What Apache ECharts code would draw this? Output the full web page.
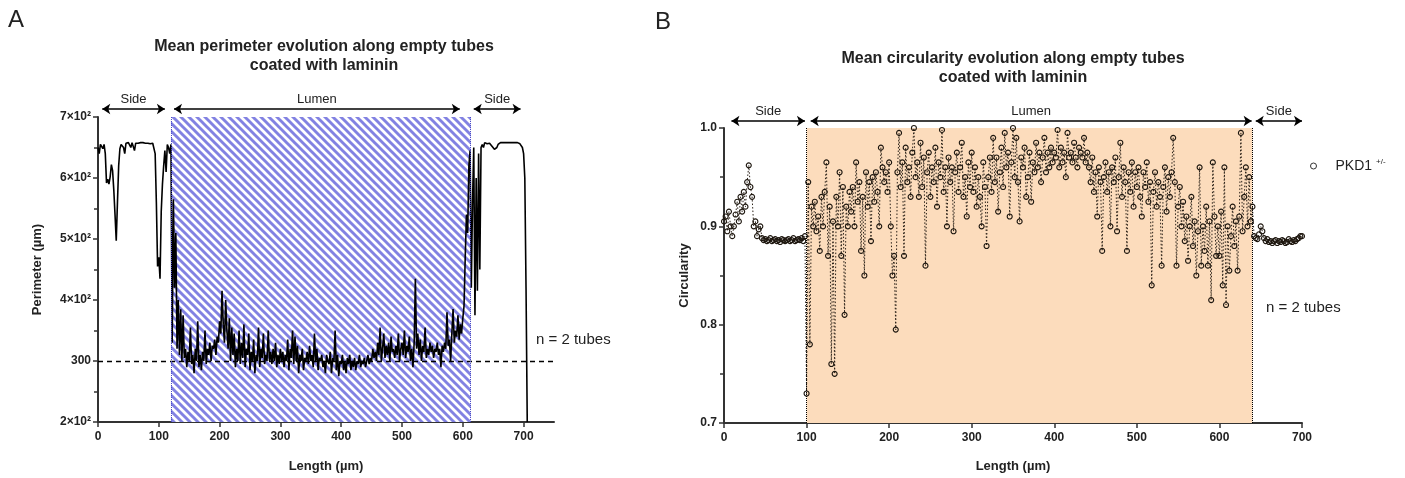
<!DOCTYPE html>
<html><head><meta charset="utf-8">
<script src="https://cdn.jsdelivr.net/npm/echarts@6/dist/echarts.min.js"></script>
<style>html,body{margin:0;padding:0;background:#fff}#c{width:1405px;height:478px}</style>
</head><body><div id="c"></div>
<script>
// ---- data ----
const lengthStart = 0;
const lengthStep = 2; // µm between samples

const perimeterValues = [
650,640,655,652,648,655,640,592,598,590,
602,622,612,580,540,497,560,620,648,655,
656,650,640,657,655,658,657,650,658,657,
645,657,658,657,658,658,657,658,658,657,
658,657,658,656,658,657,655,640,560,455,
470,435,545,590,620,645,610,655,650,640,
655,330,565,420,510,320,400,310,385,300,
375,305,320,290,315,300,355,295,310,280,
320,300,365,290,310,285,315,300,350,295,
320,310,330,300,325,320,335,310,340,330,
365,345,415,360,330,400,350,320,370,300,
355,310,345,290,320,300,350,295,330,305,
360,290,320,310,345,285,315,300,335,280,
310,300,355,290,320,305,345,295,310,300,
350,300,315,295,320,300,330,290,310,295,
320,300,315,290,310,300,335,285,320,305,
350,295,340,300,325,280,310,300,320,285,
305,300,315,295,325,300,310,290,345,300,
320,285,305,300,310,290,300,280,310,300,
295,315,280,305,300,350,285,310,275,300,
295,310,285,300,280,305,295,310,285,300,
290,305,285,300,295,310,290,300,295,305,
290,300,310,295,305,300,320,305,315,300,
330,310,355,300,320,345,305,325,310,330,
300,340,315,320,305,325,310,345,300,320,
330,310,350,305,325,315,340,300,320,290,
330,435,320,345,310,335,300,325,315,355,
305,320,310,330,315,325,305,320,315,330,
310,320,290,325,315,330,320,380,325,335,
300,345,385,330,350,340,375,335,360,345,
370,390,470,540,510,620,645,420,560,650,
375,600,415,640,450,650,655,650,658,657,
656,658,657,655,652,650,647,646,650,655,
657,658,657,658,657,658,657,658,657,658,
657,658,657,658,657,658,657,656,655,650,
640,600,420,200
];

const circularityValues = [
.905,.91,.895,.915,.9,.89,.9,.912,.925,.905,
.93,.915,.935,.92,.945,.962,.94,.93,.9,.905,
.89,.897,.9,.888,.886,.887,.885,.886,.888,.885,
.886,.887,.885,.886,.884,.887,.886,.885,.886,.887,
.885,.886,.888,.885,.886,.887,.886,.888,.885,.89,
.73,.945,.78,.92,.9,.925,.895,.91,.875,.93,
.9,.935,.965,.87,.92,.76,.905,.75,.93,.9,
.955,.87,.94,.81,.92,.9,.935,.915,.94,.9,
.965,.925,.945,.875,.93,.85,.955,.92,.945,.885,
.95,.925,.955,.935,.9,.98,.96,.945,.955,.935,
.965,.9,.85,.87,.795,.955,.995,.94,.965,.87,
.98,.945,.96,.93,.975,1.0,.95,.965,.93,.985,
.94,.97,.86,.955,.975,.93,.96,.945,.98,.92,
.965,.95,.998,.935,.96,.9,.97,.945,.96,.895,
.955,.975,.935,.96,.985,.93,.95,.91,.965,.94,
.975,.935,.96,.92,.95,.93,.9,.965,.94,.88,
.95,.97,.935,.99,.945,.97,.915,.955,.98,.94,
.995,.96,.975,.91,.965,1.0,.95,.99,.945,.905,
.97,.96,.98,.93,.95,.975,.925,.965,.955,.985,
.96,.975,.945,.97,.99,.955,.975,.96,.98,.965,
.975,.97,.998,.96,.98,.965,.975,.95,.995,.97,
.975,.965,.985,.97,.96,.98,.975,.97,.99,.965,
.975,.96,.945,.97,.935,.955,.91,.96,.945,.875,
.95,.965,.935,.955,.9,.96,.945,.97,.895,.95,
.985,.93,.96,.945,.875,.955,.935,.965,.92,.955,
.94,.96,.93,.91,.955,.94,.965,.925,.945,.84,
.935,.955,.92,.945,.93,.86,.94,.96,.915,.95,
.93,.955,.99,.945,.86,.92,.94,.9,.925,.885,
.91,.865,.9,.93,.88,.905,.85,.895,.96,.86,
.9,.875,.92,.86,.905,.825,.965,.91,.87,.9,
.87,.915,.84,.96,.82,.9,.855,.89,.92,.88,
.905,.855,.91,.995,.895,.93,.96,.9,.95,.905,
.92,.89,.888,.887,.892,.9,.895,.888,.885,.887,
.884,.885,.883,.885,.886,.883,.885,.884,.886,.885,
.883,.884,.887,.885,.884,.886,.885,.887,.888,.89,
.89
];

const lengthTicks = [0,100,200,300,400,500,600,700];
const perimeterTicks = [200,300,400,500,600,700];
const perimeterTickLabels = ['2×10²','300','4×10²','5×10²','6×10²','7×10²'];
const perimeterReference = 300;
const lumenA = [120, 613];
const regionsA = [
  {name:'Side', from:7, to:110},
  {name:'Lumen', from:125, to:595},
  {name:'Side', from:618, to:695}
];
const lumenB = [100, 640];
const regionsB = [
  {name:'Side', from:9, to:98},
  {name:'Lumen', from:105, to:639},
  {name:'Side', from:644, to:700}
];
const seriesNameB = 'PKD1';

// ---- chart ----
const FONT = '"Liberation Sans", Arial, Helvetica, sans-serif';
const dataA = perimeterValues.map((v,i)=>[lengthStart + i*lengthStep, v]);
const dataB = circularityValues.map((v,i)=>[lengthStart + i*lengthStep, v]);

function hatch(){
  const s = 8;
  const c = document.createElement('canvas'); c.width = s; c.height = s;
  const g = c.getContext('2d');
  g.fillStyle = '#ffffff'; g.fillRect(0,0,s,s);
  g.strokeStyle = '#8282e2'; g.lineWidth = 2.9;
  g.beginPath();
  for (const k of [-s,0,s]) { g.moveTo(k-1,-1); g.lineTo(k+s+1,s+1); }
  g.stroke();
  return c;
}

const axisLine = {show:true, onZero:false, lineStyle:{color:'#333', width:2}};
const axisTick = {show:true, length:5, lineStyle:{color:'#333', width:1.5}};
const labelBase = {fontFamily:FONT, fontWeight:'bold', fontSize:12, color:'#222', margin:7};
const nameStyle = {fontFamily:FONT, fontWeight:'bold', fontSize:13, color:'#222'};

const chart = echarts.init(document.getElementById('c'));
chart.setOption({
  animation:false,
  backgroundColor:'#fff',
  grid:[
    {left:98, top:117, width:456, height:309},
    {left:724, top:128, width:578, height:298},
    {left:98, top:99, width:456, height:20},
    {left:724, top:111, width:578, height:20}
  ],
  xAxis:[
    {gridIndex:0, type:'value', min:0, max:750, interval:100,
     axisLine, axisTick:{...axisTick, customValues:lengthTicks},
     axisLabel:{...labelBase, margin:9, customValues:lengthTicks, formatter:v=> v>700?'':String(v)},
     splitLine:{show:false},
     name:'Length (µm)', nameLocation:'middle', nameGap:38, nameTextStyle:nameStyle},
    {gridIndex:1, type:'value', min:0, max:700, interval:100,
     axisLine, axisTick, axisLabel:{...labelBase, margin:9}, splitLine:{show:false},
     name:'Length (µm)', nameLocation:'middle', nameGap:37, nameTextStyle:nameStyle},
    {gridIndex:2, type:'value', min:0, max:750, show:false},
    {gridIndex:3, type:'value', min:0, max:700, show:false}
  ],
  yAxis:[
    {gridIndex:0, type:'value', min:200, max:700, interval:100,
     axisLine, axisTick, minorTick:{show:true, splitNumber:2, length:4, lineStyle:{color:'#333', width:1.5}},
     axisLabel:{...labelBase, fontSize:12, formatter:v=>{const i=perimeterTicks.indexOf(v); return i>=0?perimeterTickLabels[i]:'';}},
     splitLine:{show:false}, minorSplitLine:{show:false},
     name:'Perimeter (µm)', nameLocation:'middle', nameGap:54, nameTextStyle:nameStyle},
    {gridIndex:1, type:'value', min:0.7, max:1.0, interval:0.1,
     axisLine, axisTick, minorTick:{show:true, splitNumber:2, length:4, lineStyle:{color:'#333', width:1.5}},
     axisLabel:{...labelBase, formatter:v=>v.toFixed(1)},
     splitLine:{show:false}, minorSplitLine:{show:false},
     name:'Circularity', nameLocation:'middle', nameGap:33, nameTextStyle:nameStyle},
    {gridIndex:2, type:'value', min:0, max:1, show:false},
    {gridIndex:3, type:'value', min:0, max:1, show:false}
  ],
  legend:{
    data:[{name:seriesNameB, icon:'circle', itemStyle:{color:'rgba(0,0,0,0)', borderColor:'#333', borderWidth:1}}],
    left:1305, top:153, itemWidth:6, itemHeight:6,
    formatter:()=> '{n|'+seriesNameB+'}{s|+/-}',
    textStyle:{rich:{
      n:{fontFamily:FONT, fontSize:14, color:'#222', padding:[0,0,0,14]},
      s:{fontFamily:FONT, fontSize:8, color:'#222', verticalAlign:'top', padding:[0,0,8,4]}
    }}
  },
  graphic:[
    {type:'text', x:8, y:8, style:{text:'A', fontFamily:FONT, fontSize:24, fill:'#222'}},
    {type:'text', x:655, y:10, style:{text:'B', fontFamily:FONT, fontSize:24, fill:'#222'}},
    {type:'text', x:324, y:37, style:{text:'Mean perimeter evolution along empty tubes\ncoated with laminin', textAlign:'center', fontFamily:FONT, fontWeight:'bold', fontSize:16, lineHeight:19, fill:'#222'}},
    {type:'text', x:1013, y:49, style:{text:'Mean circularity evolution along empty tubes\ncoated with laminin', textAlign:'center', fontFamily:FONT, fontWeight:'bold', fontSize:16, lineHeight:19, fill:'#222'}},
    {type:'text', x:536, y:332, style:{text:'n = 2 tubes', fontFamily:FONT, fontSize:15, fill:'#222'}},
    {type:'text', x:1266, y:300, style:{text:'n = 2 tubes', fontFamily:FONT, fontSize:15, fill:'#222'}}
  ],
  series:[
    {type:'line', name:'Perimeter', xAxisIndex:0, yAxisIndex:0, data:dataA,
     symbol:'none', showSymbol:false, lineStyle:{color:'#000', width:1.6}, itemStyle:{color:'#000'}, z:3,
     markArea:{silent:true, itemStyle:{color:{image:hatch(), repeat:'repeat'}},
       data:[[{xAxis:lumenA[0], yAxis:200},{xAxis:lumenA[1], yAxis:700}]]},
     markLine:{silent:true, symbol:'none', label:{show:false},
       data:[
         {yAxis:perimeterReference, lineStyle:{type:[5,4], color:'#000', width:1.3}},
         {xAxis:lumenA[0], lineStyle:{type:'dotted', color:'#4a4ac8', width:1}},
         {xAxis:lumenA[1], lineStyle:{type:'dotted', color:'#4a4ac8', width:1}}
       ]}
    },
    {type:'line', name:seriesNameB, xAxisIndex:1, yAxisIndex:1, data:dataB,
     symbol:'circle', symbolSize:5, showSymbol:true,
     lineStyle:{color:'#2a2118', width:1, type:[1.5,2]},
     itemStyle:{color:'rgba(0,0,0,0)', borderColor:'#1e170f', borderWidth:1.1}, z:3,
     markArea:{silent:true, itemStyle:{color:'#fcdcbc'},
       data:[[{xAxis:lumenB[0], yAxis:0.7},{xAxis:lumenB[1], yAxis:1.0}]]},
     markLine:{silent:true, symbol:'none', label:{show:false},
       data:[
         {xAxis:lumenB[0], lineStyle:{type:'dotted', color:'#000', width:1}},
         {xAxis:lumenB[1], lineStyle:{type:'dotted', color:'#000', width:1}}
       ]}
    },
    {type:'line', name:'arrowsA', xAxisIndex:2, yAxisIndex:2, data:[],
     markLine:{silent:true, symbol:['arrow','arrow'], symbolSize:8,
       lineStyle:{color:'#000', width:1.6, type:'solid'},
       label:{show:true, position:'insideMiddleTop', formatter:'{b}', color:'#222', fontFamily:FONT, fontSize:13, distance:3},
       data: regionsA.map(r=>[{coord:[r.from,0.5], name:r.name},{coord:[r.to,0.5]}])}
    },
    {type:'line', name:'arrowsB', xAxisIndex:3, yAxisIndex:3, data:[],
     markLine:{silent:true, symbol:['arrow','arrow'], symbolSize:8,
       lineStyle:{color:'#000', width:1.6, type:'solid'},
       label:{show:true, position:'insideMiddleTop', formatter:'{b}', color:'#222', fontFamily:FONT, fontSize:13, distance:3},
       data: regionsB.map(r=>[{coord:[r.from,0.5], name:r.name},{coord:[r.to,0.5]}])}
    }
  ]
});
</script>
</body></html>
